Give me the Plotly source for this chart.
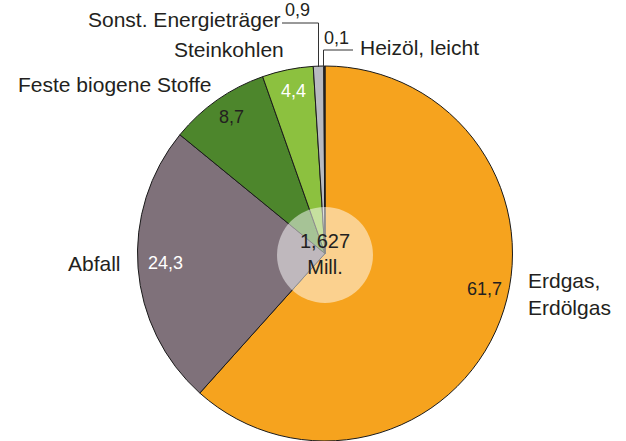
import plotly.graph_objects as go

categories = ["Erdgas, Erdölgas", "Abfall", "Feste biogene Stoffe", "Steinkohlen",
              "Sonst. Energieträger", "Heizöl, leicht"]
values = [61.7, 24.3, 8.7, 4.4, 0.9, 0.1]
colors = ["#F6A31E", "#7F717A", "#4D862C", "#8CC13F", "#B8BAC0", "#3A3536"]
total_label = "1,627<br>Mill."

W, H = 626, 441
T = 66

def px(x):
    return x / W

def py(y):
    return (H - y) / (H - T)

def fmt(v):
    return f"{v:.1f}".replace(".", ",")

fig = go.Figure(go.Pie(
    labels=categories, values=values, sort=False, direction="clockwise",
    rotation=0, marker=dict(colors=colors, line=dict(color="#1a1a1a", width=1)),
    textinfo="none", hoverinfo="label+value", showlegend=False,
    domain=dict(x=[px(325 - (H - T) / 2), px(325 + (H - T) / 2)], y=[0, 1]),
))

font = "Liberation Sans, Arial, sans-serif"
dark = "#231F20"
anns = []
# values inside slices
val_pos = [(484, 289, dark), (165, 263, "white"), (231, 117, dark), (293, 91, "white")]
for v, (x, y, c) in zip(values[:4], val_pos):
    anns.append(dict(x=px(x), y=py(y), text=fmt(v), showarrow=False,
                     xanchor="center", yanchor="middle",
                     font=dict(size=18, color=c, family=font)))
# small values above
anns.append(dict(x=px(283), y=py(10), text=fmt(values[4]), showarrow=False,
                 xanchor="left", yanchor="middle",
                 font=dict(size=18, color=dark, family=font)))
anns.append(dict(x=px(322), y=py(38), text=fmt(values[5]), showarrow=False,
                 xanchor="left", yanchor="middle",
                 font=dict(size=18, color=dark, family=font)))
# category labels
lab = [
    (526, 294, "left", "Erdgas,<br>Erdölgas"),
    (123, 263, "right", categories[1]),
    (213, 84, "right", categories[2]),
    (286, 49, "right", categories[3]),
    (283, 20, "right", categories[4]),
    (358, 47, "left", categories[5]),
]
for x, y, xa, t in lab:
    anns.append(dict(x=px(x), y=py(y), text=t, showarrow=False, xanchor=xa,
                     yanchor="middle", align="left",
                     font=dict(size=21, color=dark, family=font)))
anns.append(dict(x=px(325), y=py(254), text=total_label, showarrow=False,
                 xanchor="center", yanchor="middle",
                 font=dict(size=20, color=dark, family=font)))

shapes = [
    dict(type="circle", xref="paper", yref="paper", x0=px(277), x1=px(373),
         y0=py(303), y1=py(207), fillcolor="rgba(255,255,255,0.5)",
         line=dict(width=0), layer="above"),
    dict(type="path", xref="paper", yref="paper",
         path=f"M {px(282)},{py(23)} L {px(318.5)},{py(23)} L {px(318.5)},{py(T + 1)}",
         line=dict(color="#333333", width=1)),
    dict(type="path", xref="paper", yref="paper",
         path=f"M {px(353)},{py(50)} L {px(323.5)},{py(50)} L {px(323.5)},{py(T + 1)}",
         line=dict(color="#333333", width=1)),
]

fig.update_layout(width=W, height=H, margin=dict(l=0, r=0, t=T, b=0),
                  paper_bgcolor="white", plot_bgcolor="white",
                  annotations=anns, shapes=shapes)
fig.write_html("out.html", post_script="document.body.style.margin='0';",
               config={"displayModeBar": False})
